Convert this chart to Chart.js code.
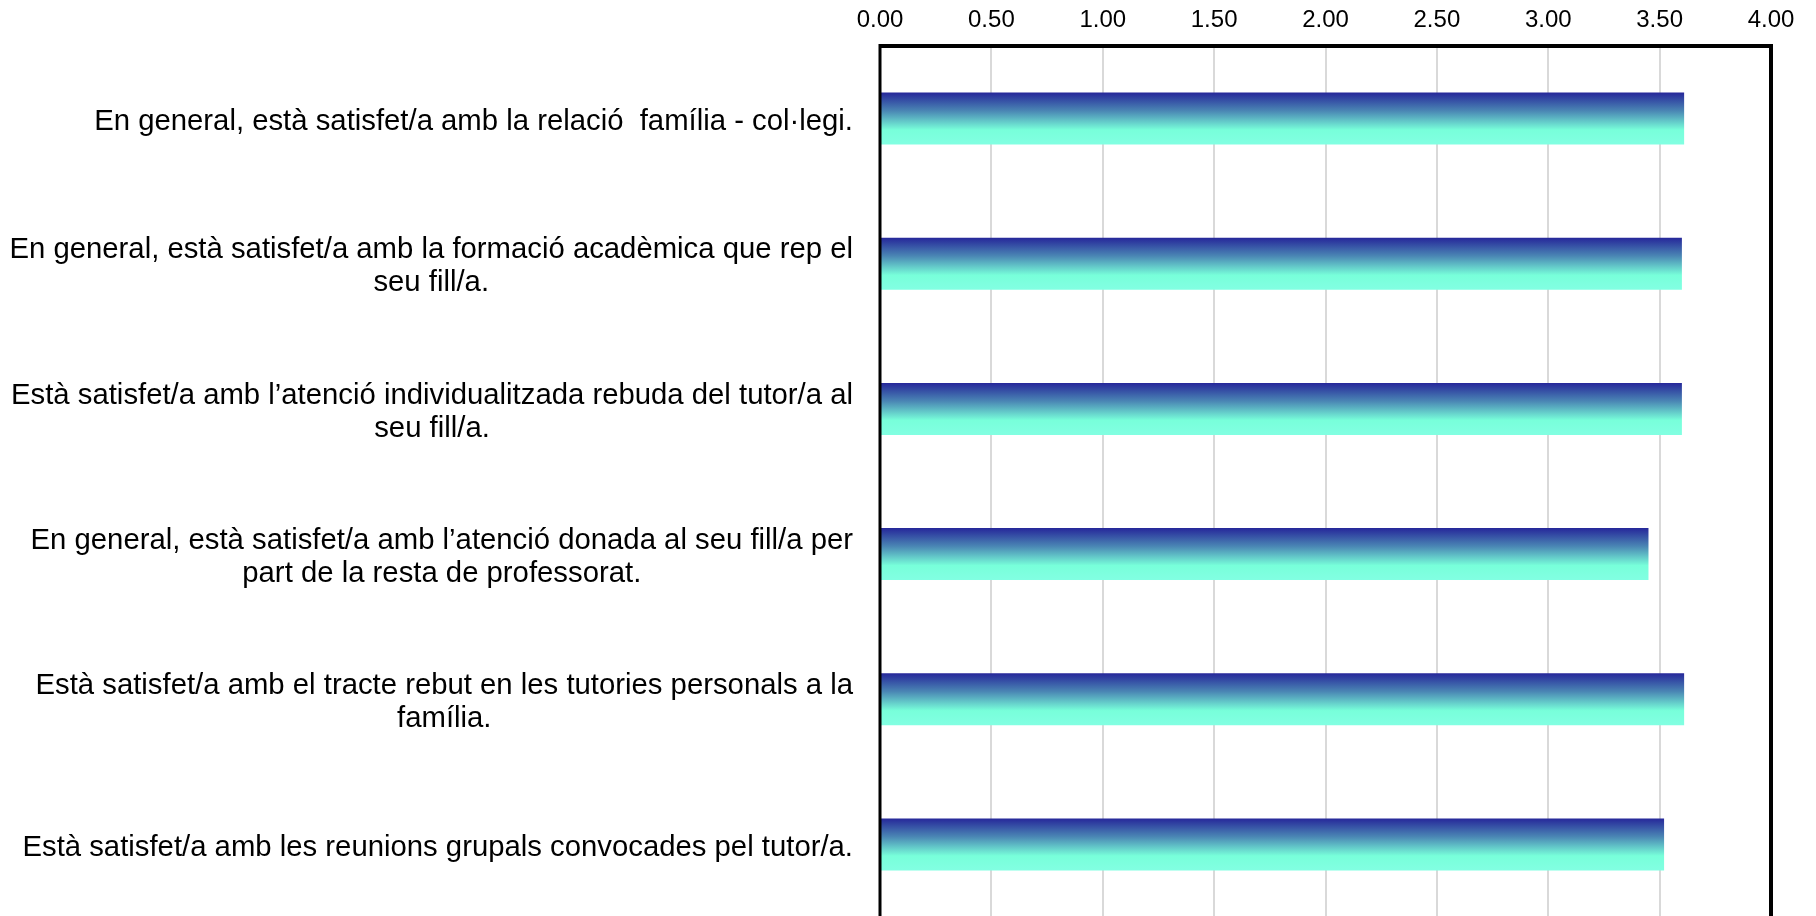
<!DOCTYPE html>
<html><head><meta charset="utf-8">
<script src="https://cdn.jsdelivr.net/npm/chart.js@4.4.1/dist/chart.umd.min.js"></script>
<style>
html,body{margin:0;padding:0;background:#fff;overflow:hidden;width:1816px;height:916px}
#wrap{position:relative;width:1816px;height:920px}
</style>
</head><body><div id="wrap"><canvas id="c"></canvas></div>
<script>
const categories = [
  ["En general, està satisfet/a amb la relació  família - col·legi."],
  ["En general, està satisfet/a amb la formació acadèmica que rep el", "seu fill/a."],
  ["Està satisfet/a amb l’atenció individualitzada rebuda del tutor/a al", "seu fill/a."],
  ["En general, està satisfet/a amb l’atenció donada al seu fill/a per", "part de la resta de professorat."],
  ["Està satisfet/a amb el tracte rebut en les tutories personals a la", "família."],
  ["Està satisfet/a amb les reunions grupals convocades pel tutor/a."]
];
const values = [3.61, 3.60, 3.60, 3.45, 3.61, 3.52];
const xTickValues = [0, 0.5, 1, 1.5, 2, 2.5, 3, 3.5, 4];

const FONT = '"Liberation Sans", Arial, sans-serif';
const BAR_PCT = 0.358;

const labelPlugin = {
  id: 'catLabels',
  afterDraw(chart) {
    const ctx = chart.ctx, ys = chart.scales.y, area = chart.chartArea;
    ctx.save();
    ctx.font = '29.3px ' + FONT;
    ctx.fillStyle = '#000';
    ctx.textAlign = 'center';
    ctx.textBaseline = 'middle';
    const lh = 33;
    categories.forEach((lines, i) => {
      const y = ys.getPixelForTick(i) + 3;
      let w = 0;
      lines.forEach(l => { w = Math.max(w, ctx.measureText(l).width); });
      const cx = area.left - 27 - w / 2;
      lines.forEach((l, k) => {
        ctx.fillText(l, cx, y - (lines.length - 1) * lh / 2 + k * lh);
      });
    });
    ctx.restore();
  }
};

const framePlugin = {
  id: 'frame',
  afterDatasetsDraw(chart) {
    const ctx = chart.ctx, a = chart.chartArea;
    ctx.save();
    ctx.strokeStyle = '#000';
    ctx.lineWidth = 4;
    ctx.beginPath();
    ctx.moveTo(a.left, a.top); ctx.lineTo(a.right, a.top); ctx.lineTo(a.right, a.bottom);
    ctx.stroke();
    ctx.lineWidth = 3;
    ctx.beginPath();
    ctx.moveTo(a.left, a.top - 2); ctx.lineTo(a.left, a.bottom + 2);
    ctx.stroke();
    ctx.restore();
  }
};

new Chart(document.getElementById('c'), {
  type: 'bar',
  data: {
    labels: categories,
    datasets: [{
      data: values,
      borderWidth: 0,
      categoryPercentage: 1,
      barPercentage: BAR_PCT,
      backgroundColor: (c) => {
        const chart = c.chart;
        const ys = chart.scales.y;
        if (c.type !== 'data' || !ys || !chart.chartArea) return '#27289a';
        const cy = ys.getPixelForValue(c.dataIndex);
        const h = (ys.height / categories.length) * BAR_PCT;
        const g = chart.ctx.createLinearGradient(0, cy - h / 2, 0, cy + h / 2);
        g.addColorStop(0, '#26279a');
        g.addColorStop(0.35, '#4a86b4');
        g.addColorStop(0.72, '#78ffda');
        g.addColorStop(1, '#82ffe2');
        return g;
      }
    }]
  },
  options: {
    indexAxis: 'y',
    responsive: true,
    maintainAspectRatio: false,
    animation: false,
    layout: { padding: { left: 0, right: 45, top: 0, bottom: 3 } },
    plugins: { legend: { display: false }, tooltip: { enabled: false } },
    scales: {
      x: {
        position: 'top',
        min: 0, max: 4,
        afterBuildTicks: (s) => { s.ticks = xTickValues.map(v => ({ value: v })); },
        afterFit: (s) => { s.height = 46; },
        grid: { color: '#d9d9d9', lineWidth: 2, drawTicks: false },
        border: { display: false },
        ticks: {
          color: '#000',
          font: { family: FONT, size: 24 },
          padding: 11,
          maxRotation: 0,
          callback: (v) => Number(v).toFixed(2)
        }
      },
      y: {
        afterFit: (s) => { s.width = 880; },
        grid: { display: false },
        border: { display: false },
        ticks: { display: false }
      }
    }
  },
  plugins: [labelPlugin, framePlugin]
});
</script>
</body></html>
